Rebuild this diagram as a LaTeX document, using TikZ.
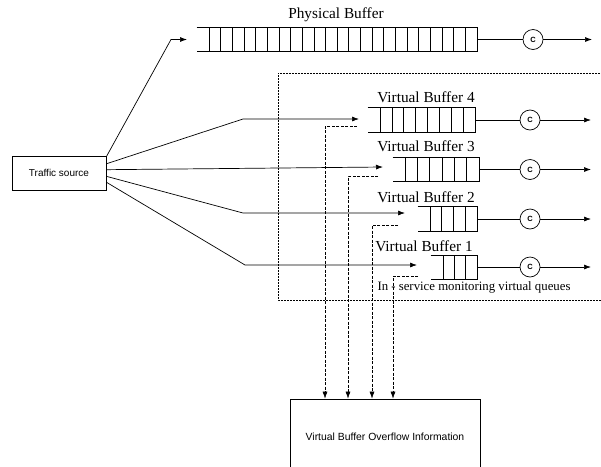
\documentclass[tikz,border=0pt]{standalone}
\usepackage{fontspec}
\setmainfont{Liberation Serif}
\setsansfont{Liberation Sans}
\usetikzlibrary{arrows.meta}

\begin{document}
\begin{tikzpicture}[
        x=1pt, y=-1pt,
        line width=0.7pt,
        >={Latex[length=7pt,width=5pt]},
        source/.style={rectangle, draw, minimum width=94pt, minimum height=34pt, inner sep=0pt, font=\sffamily\fontsize{10}{12}\selectfont},
        infobox/.style={rectangle, draw, minimum width=190pt, minimum height=80pt, inner sep=0pt, font=\sffamily\fontsize{10.4}{12}\selectfont},
        buffer/.style={rectangle, inner sep=0pt},
        buflabel/.style={anchor=east, inner sep=0pt, font=\fontsize{15.3}{17}\selectfont},
        server/.style={circle, draw, minimum size=20pt, inner sep=0pt, font=\sffamily\bfseries\fontsize{7.5}{8}\selectfont},
        overflow/.style={->, dash pattern=on 3pt off 1.5pt, line width=0.6pt},
        monitor/.style={dash pattern=on 2pt off 1pt, line width=0.6pt},
    ]
        \useasboundingbox (0,0) rectangle (601,466);

        % Source
        \node[source] (src) at (59,173) {Traffic source};

        % Physical buffer
        \node (phystxt) at (336,15) {\fontsize{15.3}{17}\selectfont Physical Buffer};
        \node[buffer, minimum width=280pt, minimum height=23pt] (phys) at (337,39.5) {};
        \draw (phys.north west) -- (phys.north east) -- (phys.south east) -- (phys.south west);
        \foreach \i in {0,...,22}
            \draw (209+\i*11.652,28) -- ++(0,23);

        % Monitoring region
        \draw[monitor] (612,73) -- (278,73) -- (278,300) -- (612,300);
        \node[inner sep=0pt, font=\fontsize{12.8}{15}\selectfont] (mon) at (474,287) {In - service monitoring virtual queues};

        % Virtual buffers
        \node[buffer, minimum width=107pt, minimum height=24pt] (vb4) at (421.5,120) {};
        \node[buffer, minimum width=86pt, minimum height=23pt] (vb3) at (436,169.5) {};
        \node[buffer, minimum width=59pt, minimum height=24pt] (vb2) at (447.5,219) {};
        \node[buffer, minimum width=46pt, minimum height=23pt] (vb1) at (454,267) {};
        \foreach \b in {vb4,vb3,vb2,vb1}
            \draw (\b.north west) -- (\b.north east) -- (\b.south east) -- (\b.south west);
        \foreach \i in {0,...,7}
            \draw (380+\i*11.875,108) -- ++(0,24);
        \foreach \i in {0,...,5}
            \draw (405+\i*12.33,158) -- ++(0,23);
        \foreach \i in {0,...,3}
            \draw (430+\i*11.75,207) -- ++(0,24);
        \foreach \i in {0,...,2}
            \draw (443+\i*11.33,255.5) -- ++(0,23);

        \node[buflabel] (lab4) at (475,97) {Virtual Buffer 4};
        \node[buflabel] (lab3) at (475,146) {Virtual Buffer 3};
        \node[buflabel] (lab2) at (475,197) {Virtual Buffer 2};
        \node[buflabel] (lab1) at (473,246) {Virtual Buffer 1};

        % Servers
        \node[server] (cp) at (533,39.5) {C};
        \node[server] (c4) at (530,120) {C};
        \node[server] (c3) at (530,169.5) {C};
        \node[server] (c2) at (530,219) {C};
        \node[server] (c1) at (530,267) {C};

        \coordinate (op) at (592,39.5);
        \coordinate (o4) at (591,120);
        \coordinate (o3) at (591,169.5);
        \coordinate (o2) at (591,219);
        \coordinate (o1) at (591,267);

        \draw (phys.east) -- (cp);
        \draw (vb4.east) -- (c4);
        \draw (vb3.east) -- (c3);
        \draw (vb2.east) -- (c2);
        \draw (vb1.east) -- (c1);
        \draw[->] (cp) -- (op);
        \draw[->] (c4) -- (o4);
        \draw[->] (c3) -- (o3);
        \draw[->] (c2) -- (o2);
        \draw[->] (c1) -- (o1);

        % Arrows from source
        \coordinate (pin) at (187,39.5);
        \coordinate (in4) at (359,119);
        \coordinate (in3) at (383,167);
        \coordinate (in2) at (405,213);
        \coordinate (in1) at (417,265);
        \draw[->] (src.19) -- (171,39.5) -- (pin);
        \draw[->] (src.11) -- (243,119) -- (in4);
        \draw[->] (src.4) -- (in3);
        \draw[->] (src.-4) -- (243,213) -- (in2);
        \draw[->] (src.-11) -- (245,265) -- (in1);

        % Overflow information
        \node[infobox] (ovf) at (385,439) {\raisebox{5pt}{Virtual Buffer Overflow Information}};

        \coordinate (e4) at (357,126);
        \coordinate (d4) at (325,126);
        \coordinate (e3) at (378,176);
        \coordinate (d3) at (348,176);
        \coordinate (e2) at (398,225);
        \coordinate (d2) at (372,225);
        \coordinate (e1) at (418,276);
        \coordinate (d1) at (393,276);
        \draw[overflow] (e4) -- (d4) -- (d4 |- ovf.north);
        \draw[overflow] (e3) -- (d3) -- (d3 |- ovf.north);
        \draw[overflow] (e2) -- (d2) -- (d2 |- ovf.north);
        \draw[overflow] (e1) -- (d1) -- (d1 |- ovf.north);

    \end{tikzpicture}
\end{document}
